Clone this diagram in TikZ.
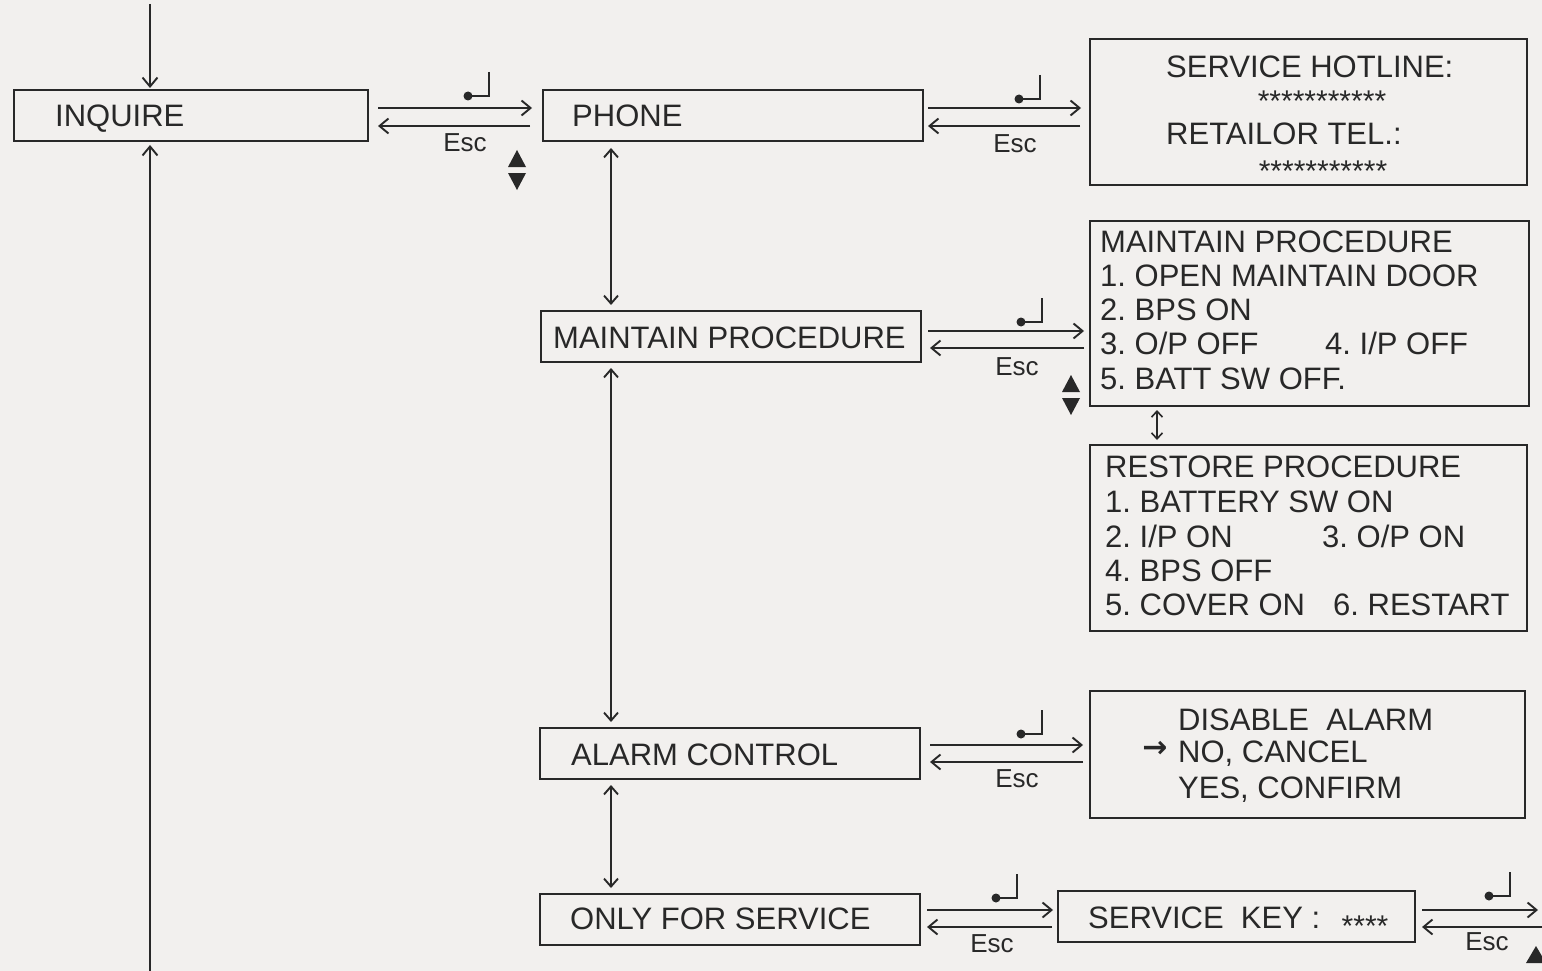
\documentclass[tikz,border=0pt]{standalone}
\usepackage{fontspec}
\setmainfont{Liberation Sans}
\newfontfamily\symfont{DejaVu Sans}
\usetikzlibrary{arrows.meta}
\definecolor{bg}{RGB}{242,240,238}
\definecolor{ink}{RGB}{40,40,40}
\begin{document}
\begin{tikzpicture}[x=1pt,y=-1pt,
  box/.style={draw=ink, line width=2pt, anchor=north west, inner sep=0pt, outer sep=0pt},
  txt/.style={text=ink, font=\fontsize{31}{31}\selectfont, inner sep=0pt, text height=22pt, text depth=0pt, anchor=west},
  esc/.style={text=ink, font=\fontsize{26}{26}\selectfont, inner sep=0pt},
  stars/.style={text=ink, font=\fontsize{30}{30}\selectfont, inner sep=0pt, anchor=base},
  conn/.style={draw=ink, line width=1.9pt, -{Straight Barb[length=9pt,width=15pt]}},
  dbl/.style={draw=ink, line width=1.9pt, {Straight Barb[length=8pt,width=14pt]}-{Straight Barb[length=8pt,width=14pt]}},
  pics/enterkey/.style={code={
    \draw[ink, line width=2.6pt] (0,-24) -- (0,0) -- (-21,0);
    \fill[ink] (-21,0) circle (4.5);}},
  pics/updown/.style={code={
    \fill[ink] (-9,-3) -- (9,-3) -- (0,-20) -- cycle;
    \fill[ink] (-9,3) -- (9,3) -- (0,20) -- cycle;}},
  pics/uptri/.style={code={
    \fill[ink] (-10,17) -- (10,17) -- (0,0) -- cycle;}}
]
\useasboundingbox (0,0) rectangle (1542,971);
\fill[bg] (0,0) rectangle (1542,971);
\clip (0,0) rectangle (1542,971);

% level coordinates
\coordinate (topIn) at (150,4);
\coordinate (botIn) at (150,975);
\coordinate (ya) at (0,108);
\coordinate (yb) at (0,126);
\coordinate (yc) at (0,331);
\coordinate (yd) at (0,348);
\coordinate (ye) at (0,745);
\coordinate (yf) at (0,762);
\coordinate (yg) at (0,910);
\coordinate (yh) at (0,927);
\coordinate (xv) at (611,0);
\coordinate (xs) at (1157,0);
\coordinate (offR) at (1550,0);

% boxes
\node[box, minimum width=354pt, minimum height=51pt] (inq) at (14,90) {};
\node[txt] (inqT) at (55,116) {INQUIRE};

\node[box, minimum width=380pt, minimum height=51pt] (phone) at (543,90) {};
\node[txt] (phoneT) at (572,116) {PHONE};

\node[box, minimum width=437pt, minimum height=146pt] (hot) at (1090,39) {};
\node[txt] (hot1) at (1166,67) {SERVICE HOTLINE:};
\node[stars] (hot2) at (1322,112) {***********};
\node[txt] (hot3) at (1166,134) {RETAILOR TEL.:};
\node[stars] (hot4) at (1323,182) {***********};

\node[box, minimum width=380pt, minimum height=51pt] (maint) at (541,311) {};
\node[txt] (maintT) at (553,337) {MAINTAIN PROCEDURE};

\node[box, minimum width=439pt, minimum height=185pt] (mp) at (1090,221) {};
\node[txt] (mp1) at (1100,241) {MAINTAIN PROCEDURE};
\node[txt] (mp2) at (1100,275) {1.~OPEN MAINTAIN DOOR};
\node[txt] (mp3) at (1100,309) {2.~BPS ON};
\node[txt] (mp4) at (1100,343) {3.~O/P OFF};
\node[txt] (mp5) at (1325,343) {4.~I/P OFF};
\node[txt] (mp6) at (1100,378) {5.~BATT SW OFF.};

\node[box, minimum width=437pt, minimum height=186pt] (rp) at (1090,445) {};
\node[txt] (rp1) at (1105,466) {RESTORE PROCEDURE};
\node[txt] (rp2) at (1105,501) {1.~BATTERY SW ON};
\node[txt] (rp3) at (1105,536) {2.~I/P ON};
\node[txt] (rp4) at (1322,536) {3.~O/P ON};
\node[txt] (rp5) at (1105,570) {4.~BPS OFF};
\node[txt] (rp6) at (1105,604) {5.~COVER ON};
\node[txt] (rp7) at (1333,604) {6.~RESTART};

\node[box, minimum width=380pt, minimum height=51pt] (alarm) at (540,728) {};
\node[txt] (alarmT) at (571,754) {ALARM CONTROL};

\node[box, minimum width=435pt, minimum height=127pt] (da) at (1090,691) {};
\node[txt] (da1) at (1178,719) {DISABLE~~ALARM};
\node[txt] (da2) at (1178,751) {NO, CANCEL};
\node[text=ink, inner sep=0pt, font=\symfont\bfseries\fontsize{30}{30}\selectfont] (daA) at (1155,749) {→};
\node[txt] (da3) at (1178,787) {YES, CONFIRM};

\node[box, minimum width=380pt, minimum height=51pt] (only) at (540,894) {};
\node[txt] (onlyT) at (570,918) {ONLY FOR SERVICE};

\node[box, minimum width=357pt, minimum height=51pt] (sk) at (1058,891) {};
\node[txt] (skT) at (1088,917) {SERVICE~~KEY~:};
\node[stars] (skS) at (1365,936) {****};

% vertical main line
\draw[conn, shorten >=2pt] (topIn) -- (inq.north -| topIn);
\draw[conn, shorten >=4pt] (botIn) -- (inq.south -| botIn);

% horizontal pairs
\draw[conn, shorten <=10pt, shorten >=11pt] (inq.east |- ya) -- (phone.west |- ya);
\draw[conn, shorten <=13pt, shorten >=10pt] (phone.west |- yb) -- (inq.east |- yb);
\node[esc] (e1) at (465,143) {Esc};
\pic at (489,96) {enterkey};
\pic at (517,170) {updown};

\draw[conn, shorten <=5pt, shorten >=9pt] (phone.east |- ya) -- (hot.west |- ya);
\draw[conn, shorten <=10pt, shorten >=5pt] (hot.west |- yb) -- (phone.east |- yb);
\node[esc] (e2) at (1015,144) {Esc};
\pic at (1040,99) {enterkey};

\draw[conn, shorten <=7pt, shorten >=6pt] (maint.east |- yc) -- (mp.west |- yc);
\draw[conn, shorten <=6pt, shorten >=9pt] (mp.west |- yd) -- (maint.east |- yd);
\node[esc] (e3) at (1017,367) {Esc};
\pic at (1042,322) {enterkey};
\pic at (1071,395) {updown};

\draw[conn, shorten <=10pt, shorten >=7pt] (alarm.east |- ye) -- (da.west |- ye);
\draw[conn, shorten <=7pt, shorten >=10pt] (da.west |- yf) -- (alarm.east |- yf);
\node[esc] (e4) at (1017,779) {Esc};
\pic at (1042,734) {enterkey};

\draw[conn, shorten <=7pt, shorten >=5pt] (only.east |- yg) -- (sk.west |- yg);
\draw[conn, shorten <=6pt, shorten >=7pt] (sk.west |- yh) -- (only.east |- yh);
\node[esc] (e5) at (992,944) {Esc};
\pic at (1017,898) {enterkey};

\draw[conn, shorten <=7pt, shorten >=12pt] (sk.east |- yg) -- (offR |- yg);
\draw[conn, shorten >=7pt] (offR |- yh) -- (sk.east |- yh);
\node[esc] (e6) at (1487,942) {Esc};
\pic at (1510,896) {enterkey};
\pic at (1536,946) {uptri};

% vertical double arrows
\draw[dbl, shorten <=7pt, shorten >=6pt] (phone.south -| xv) -- (maint.north -| xv);
\draw[dbl, shorten <=6pt, shorten >=6pt] (maint.south -| xv) -- (alarm.north -| xv);
\draw[dbl, shorten <=6pt, shorten >=6pt] (alarm.south -| xv) -- (only.north -| xv);
\draw[draw=ink, line width=1.6pt, {Straight Barb[length=6pt,width=11pt]}-{Straight Barb[length=6pt,width=11pt]}, shorten <=4pt, shorten >=5pt] (mp.south -| xs) -- (rp.north -| xs);
\end{tikzpicture}
\end{document}
